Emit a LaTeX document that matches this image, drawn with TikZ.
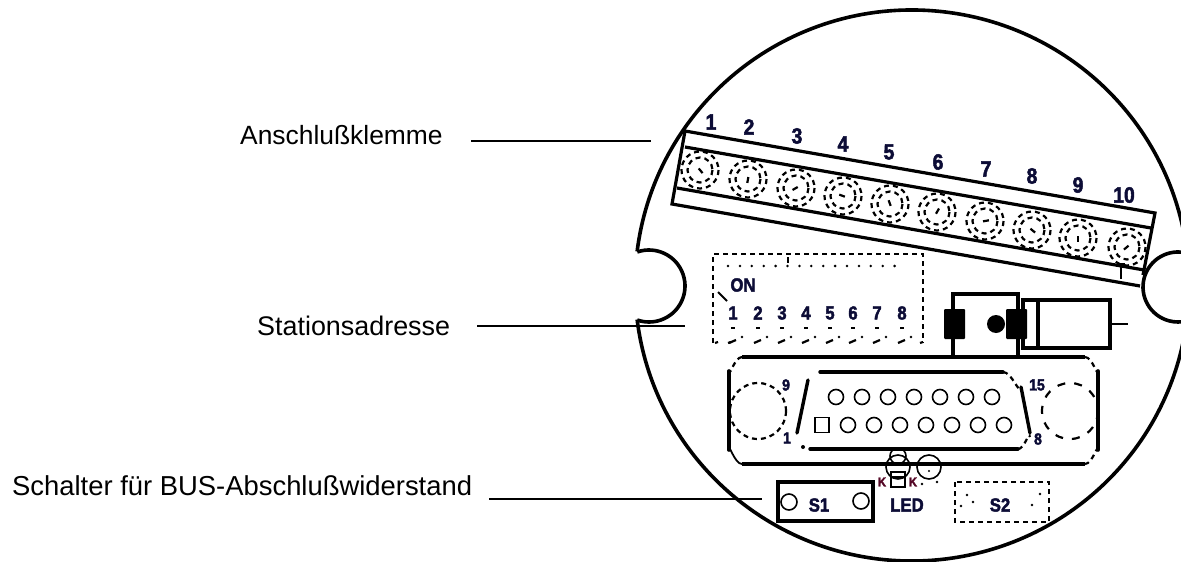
\documentclass[tikz,border=0pt]{standalone}
\usepackage{fontspec}
\setmainfont{Liberation Sans}
\newfontfamily\heavyfont[FakeStretch=0.88,FakeBold=2.2]{Liberation Sans Bold}
\definecolor{inkblue}{HTML}{0C0C36}
\tikzset{
  label/.style={font=\fontsize{26.9}{30}\selectfont,inner sep=0pt},
  leader/.style={line width=1.4pt},
  heavy/.style={line width=3.2pt},
  thin pin/.style={line width=1.6pt},
  dashy/.style={line width=2.2pt,dash pattern=on 5pt off 4pt},
  wide dashy/.style={line width=2.2pt,dash pattern=on 8pt off 9pt},
  num/.style={font=\fontsize{22}{22}\heavyfont,text=inkblue,inner sep=0pt},
  midnum/.style={font=\fontsize{19}{19}\heavyfont,text=inkblue,inner sep=0pt},
  smallnum/.style={font=\fontsize{16}{16}\heavyfont,text=inkblue,inner sep=0pt},
  tinynum/.style={font=\fontsize{13}{13}\heavyfont,text=inkblue!70!red,inner sep=0pt}
}
\begin{document}
\begin{tikzpicture}[x=1pt,y=-1pt]
    \useasboundingbox (0,0) rectangle (1181,562);

    % housing with the two notches
    \draw[line width=3.6pt] (912,285.5) ++(187.1:277 and 275.5) arc[start angle=187.1,end angle=353,x radius=277,y radius=275.5];
    \draw[line width=3.6pt] (912,285.5) ++(172.9:277 and 275.5) arc[start angle=172.9,end angle=7,x radius=277,y radius=275.5];
    \draw[line width=3.6pt] (649,286) ++(-109:36) arc[start angle=-109,end angle=109,radius=36];
    \draw[line width=3.6pt] (1178,287) ++(285:35) arc[start angle=285,end angle=75,radius=35];

    % terminal strip
    \draw[heavy] (1143,275) -- (1155,213) -- (685,131) -- (672,204) -- (1140,286);
    \draw[heavy] (685,147) -- (1151,228);
    \draw[heavy] (677,188) -- (1144,270);
    \draw[line width=1.8pt] (1121,264) -- (1121,279) (1117,264) -- (1125,264);
    \foreach \n/\x/\y/\ox/\oy in {1/700/170/711/122,2/748/179/749/127,3/796/188/797/136,4/843/196/843/144,5/890/204/889/152,
      6/937/212/938/162,7/985/221/986/169,8/1032/230/1032/176,9/1078/238/1078/185,10/1127/247/1124/195} {
      \draw[dashy] (\x,\y) circle (18.5);
      \draw[dashy] (\x,\y) circle (12.5);
      \draw[line width=2.2pt] (\x,\y) ++(50*\n:-2) -- ++(50*\n:6);
      \node[num] (term\n) at (\ox,\oy) {\n};
    }

    % address switch
    \draw[dashy] (713,343) -- (713,254) -- (923,254) -- (923,343);
    \draw[line width=1.8pt] (718,292) -- (727,301);
    \draw[line width=1.8pt] (788,257) -- (788,263);
    \foreach \i in {0,...,14} {
      \fill (728+11.9*\i,266) circle (1.4);
    }
    \foreach \n/\x in {1/733,2/758,3/782,4/806,5/830,6/853,7/877,8/902} {
      \node[midnum] (dip\n) at (\x,313) {\n};
      \draw[line width=2pt] (\x-2,328) -- (\x+2,328);
      \draw[line width=2.2pt] (\x-4,343) -- (\x+3,340);
      \fill (\x+9,337) circle (1.4);
    }
    \foreach \x in {716,729,921} {
      \draw[line width=2.2pt] (\x-1,343) -- (\x+2,342);
    }
    \node[midnum] (dipon) at (743,285) {ON};

    % relay
    \draw[heavy] (953,357) -- (953,294) -- (1018,294) -- (1018,357);
    \draw[heavy] (1023,300) rectangle (1110,348);
    \draw[heavy] (1038,300) -- (1038,348);
    \draw[line width=2.4pt] (1110,324) -- (1128,324);
    \fill[rounded corners=1pt] (944,309) rectangle (965,339);
    \fill[rounded corners=1pt] (1006,309) rectangle (1027,339);
    \fill (996,324) circle (9);

    % plug housing
    \draw[line width=3.4pt] (742,357) -- (1085,357);
    \draw[line width=4.4pt] (953,357) -- (1018,357);
    \draw[line width=3.4pt] (742,464) -- (1085,464);
    \draw[line width=3.6pt,line cap=round] (729,371) -- (729,450);
    \draw[line width=3.6pt,line cap=round] (1098,371) -- (1098,450);
    \draw[dashy] (742,357) to[out=180,in=-90] (729,371);
    \draw[dashy] (1085,357) to[out=0,in=-90] (1098,371);
    \draw[line width=1.8pt] (729,450) to[out=90,in=180] (742,464);
    \draw[dashy] (1098,450) to[out=90,in=0] (1085,464);

    % sub-d plug
    \draw[line width=3.4pt,line cap=round] (820,372) -- (1003,372);
    \draw[line width=3.4pt,line cap=round] (810,449) -- (1018,449);
    \draw[line width=3.4pt,line cap=round] (808,380) -- (797,433);
    \draw[line width=3.4pt,line cap=round] (1021,387) -- (1030,433);
    \draw[dashy] (1003,372) to[out=0,in=-100] (1021,387);
    \draw[dashy] (1018,449) to[out=0,in=100] (1030,437);
    \fill (803,447) circle (2);
    \foreach \x in {836,862,888,914,940,966,992} {
      \draw[thin pin] (\x,397) circle (7.5);
    }
    \foreach \x in {848,874,900,926,952,978,1004} {
      \draw[thin pin] (\x,425) circle (7.5);
    }
    \draw[thin pin] (815,417.5) rectangle (829,432.5);
    \draw[dashy] (758,411) circle (28);
    \draw[wide dashy] (1070,411) circle (28);
    \node[smallnum] (pin9) at (786,385) {9};
    \node[smallnum] (pin1) at (787,438) {1};
    \node[smallnum] (pin15) at (1037,385) {15};
    \node[smallnum] (pin8) at (1038,439) {8};

    % led
    \draw[thin pin] (898,467) circle (12);
    \draw[thin pin] (898,456) circle (8);
    \draw[thin pin] (891,472) rectangle (905,487);
    \draw[thin pin] (891,477) -- (905,477);
    \draw[thin pin] (929,467) circle (12);
    \fill (929,471) circle (1.2);
    \fill (922,484) circle (1.3) (937,482) circle (1.3);
    \node[tinynum] (ledk1) at (882,482) {K};
    \node[tinynum] (ledk2) at (913,482) {K};
    \node[midnum] (led) at (907,505) {LED};

    % switches
    \draw[line width=3.6pt] (778,482) rectangle (873,521);
    \draw[thin pin] (789,502) circle (8);
    \draw[thin pin] (861,501) circle (8);
    \node[midnum] (swa) at (819,505) {S1};
    \draw[dashy] (955,482) rectangle (1049,522);
    \foreach \x/\y in {967/495,973/502,961/506,1040/494,1032/505} {
      \fill (\x,\y) circle (1.4);
    }
    \node[midnum] (swb) at (1000,505) {S2};

    % labels
    \node[label,anchor=west,font=\fontsize{26.4}{30}\selectfont] (klemme) at (240,135) {Anschlußklemme};
    \node[label,anchor=west] (station) at (257,326) {Stationsadresse};
    \node[label,anchor=west,font=\fontsize{27.4}{30}\selectfont] (schalter) at (12,486) {Schalter für BUS-Abschlußwiderstand};
    \coordinate (klemmeA) at (471,141);
    \coordinate (klemmeB) at (651,141);
    \coordinate (stationA) at (477,326);
    \coordinate (stationB) at (685,326);
    \coordinate (schalterA) at (489,499);
    \coordinate (schalterB) at (762,499);
    \draw[leader] (klemmeA) -- (klemmeB);
    \draw[leader] (stationA) -- (stationB);
    \draw[leader] (schalterA) -- (schalterB);
\end{tikzpicture}
\end{document}
